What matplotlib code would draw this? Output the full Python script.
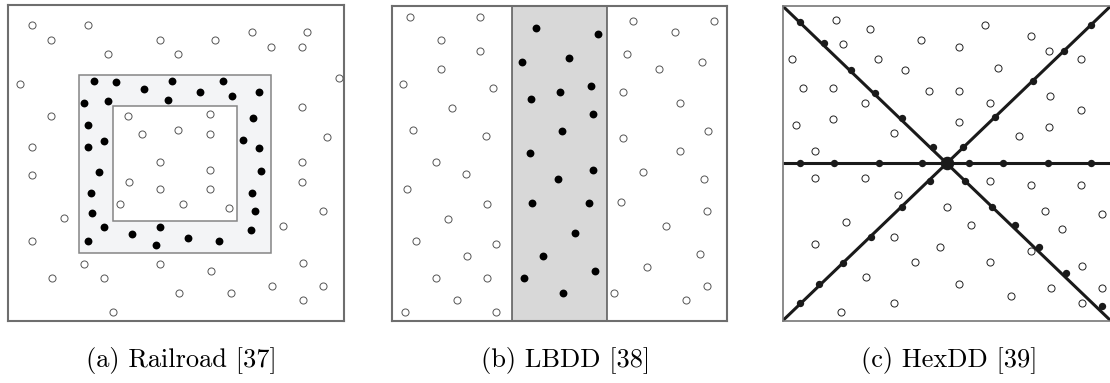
import matplotlib
matplotlib.use("Agg")
import matplotlib.pyplot as plt
from matplotlib.patches import Rectangle

W, H = 1110, 383

# ---------------- Panel (a) Railroad ----------------
a_open_x = [96, 263, 152, 479, 646, 755, 922, 812, 906, 324, 535, 60, 1017, 152, 906, 384, 629, 426, 535, 629,
            96, 980, 479, 629, 96, 906, 387, 479, 629, 906, 360, 550, 688, 192, 969, 850, 96, 252, 479, 633,
            910, 156, 312, 815, 969, 538, 692, 910, 338]
a_open_y = [74, 74, 119, 119, 119, 96, 96, 141, 141, 163, 163, 253, 233, 347, 320, 347, 342, 401, 391, 401,
            440, 411, 485, 509, 524, 487, 546, 568, 568, 546, 613, 613, 624, 655, 633, 677, 722, 792, 792, 812,
            790, 834, 834, 857, 857, 879, 879, 901, 937]
a_fill_x = [282, 348, 432, 516, 670, 600, 695, 777, 505, 253, 325, 758, 264, 313, 264, 730, 777, 297, 782, 272,
            755, 277, 765, 312, 480, 396, 754, 264, 467, 563, 658]
a_fill_y = [244, 246, 266, 243, 243, 277, 289, 275, 299, 309, 304, 355, 374, 423, 440, 420, 445, 517, 513, 579,
            578, 640, 634, 682, 680, 702, 691, 724, 736, 714, 724]

# ---------------- Panel (b) LBDD ----------------
b_open_x = [90, 301, 182, 301, 182, 70, 338, 217, 98, 318, 168, 258, 81, 322, 203, 108, 348, 262, 168, 322, 230, 75, 348,
            760, 1002, 884, 741, 967, 837, 728, 901, 985, 730, 901, 789, 972, 722, 980, 859, 960, 800, 980, 703, 919]
b_open_y = [52, 52, 119, 152, 208, 253, 264, 325, 391, 409, 486, 523, 568, 611, 656, 722, 731, 767, 834, 834, 901, 937, 937,
            63, 63, 96, 163, 186, 208, 275, 309, 392, 415, 454, 516, 538, 605, 633, 678, 762, 800, 857, 879, 901]
b_fill_x = [467, 655, 426, 568, 634, 540, 452, 640, 545, 450, 640, 534, 455, 628, 585, 489, 644, 432, 548]
b_fill_y = [85, 102, 186, 175, 258, 275, 298, 343, 392, 460, 510, 538, 610, 610, 700, 767, 812, 834, 879]

# ---------------- Panel (c) HexDD ----------------
c_open_x = [228, 330, 674, 814, 484, 596, 250, 96, 354, 436, 714, 868, 962, 128, 220, 506, 596, 314, 690, 870,
            962, 108, 220, 402, 596, 778, 868, 166, 166, 314, 690, 814, 962, 414, 562, 854, 1025, 258, 634, 906,
            166, 402, 540, 814, 466, 690, 966, 318, 598, 872, 1025, 402, 754, 966, 244]
c_open_y = [59, 87, 75, 108, 119, 140, 131, 176, 176, 210, 203, 153, 176, 264, 264, 273, 273, 309, 309, 287,
            331, 376, 357, 398, 367, 409, 380, 452, 535, 535, 543, 556, 556, 584, 621, 632, 643, 665, 675, 687,
            732, 710, 740, 754, 786, 786, 798, 832, 852, 865, 865, 910, 887, 910, 937]
c_fill_x = [120, 192, 272, 344, 426, 518, 614, 695, 766, 838, 919, 1025,
            120, 178, 250, 332, 426, 510, 608, 706, 820, 912, 994,
            120, 222, 356, 486, 626, 730, 864, 992]
c_fill_y = [65, 130, 210, 278, 354, 440, 543, 620, 676, 742, 820, 918,
            910, 852, 788, 710, 620, 543, 440, 352, 242, 152, 76,
            488, 488, 488, 488, 488, 488, 488, 488]
c_center = (560, 488)

captions = ["(a) Railroad [37]", "(b) LBDD [38]", "(c) HexDD [39]"]
caption_x = [181, 566, 949]

fig = plt.figure(figsize=(W / 100, H / 100), dpi=100)


def make_ax(px0, px1, py0, py1, zx0, zx1, zy0, zy1):
    ax = fig.add_axes([px0 / W, 1 - py1 / H, (px1 - px0) / W, (py1 - py0) / H])
    ax.set_xlim(zx0, zx1)
    ax.set_ylim(zy1, zy0)
    ax.set_xticks([])
    ax.set_yticks([])
    return ax


# panel a
axa = make_ax(8.3, 344, 5, 320.7, 25, 1032, 15, 962)
for s in axa.spines.values():
    s.set_color("#6e6e6e")
    s.set_linewidth(1.5)
axa.add_patch(Rectangle((236, 224), 813 - 236, 758 - 224, facecolor="#f3f4f6", edgecolor="#858585", lw=1.1, zorder=1))
axa.add_patch(Rectangle((338, 319), 712 - 338, 663 - 319, facecolor="white", edgecolor="#858585", lw=1.1, zorder=1))
axa.scatter(a_open_x, a_open_y, s=26, facecolor="white", edgecolor="#555555", linewidths=0.7, zorder=3)
axa.scatter(a_fill_x, a_fill_y, s=32, color="black", linewidths=0, zorder=3)

# panel b
axb = make_ax(392.3, 726.7, 5.7, 320.7, 37, 1040, 17, 962)
for s in axb.spines.values():
    s.set_color("#6e6e6e")
    s.set_linewidth(1.5)
axb.add_patch(Rectangle((397, 17), 682 - 397, 962 - 17, facecolor="#d8d8d8", edgecolor="#555555", lw=1.1, zorder=1))
axb.scatter(b_open_x, b_open_y, s=26, facecolor="white", edgecolor="#555555", linewidths=0.7, zorder=3)
axb.scatter(b_fill_x, b_fill_y, s=32, color="black", linewidths=0, zorder=3)

# panel c
axc = make_ax(782.7, 1110.7, 6, 320.7, 68, 1052, 18, 962)
for s in axc.spines.values():
    s.set_color("#777777")
    s.set_linewidth(1.2)
axc.plot([68, 1052], [18, 962], color="#1a1a1a", lw=2.2, zorder=2, solid_capstyle="butt")
axc.plot([68, 1052], [962, 18], color="#1a1a1a", lw=2.2, zorder=2, solid_capstyle="butt")
axc.plot([68, 1052], [488, 488], color="#1a1a1a", lw=2.2, zorder=2, solid_capstyle="butt")
axc.scatter(c_open_x, c_open_y, s=26, facecolor="white", edgecolor="#222222", linewidths=0.7, zorder=3)
axc.scatter(c_fill_x, c_fill_y, s=28, color="#1a1a1a", linewidths=0, zorder=3)
axc.scatter([c_center[0]], [c_center[1]], s=95, color="#1a1a1a", linewidths=0, zorder=4)

for cx, t in zip(caption_x, captions):
    fig.text(cx / W, 1 - 361 / H, t, ha="center", va="center", family="cmr10", fontsize=19)

fig.savefig("out.png", dpi=100)
